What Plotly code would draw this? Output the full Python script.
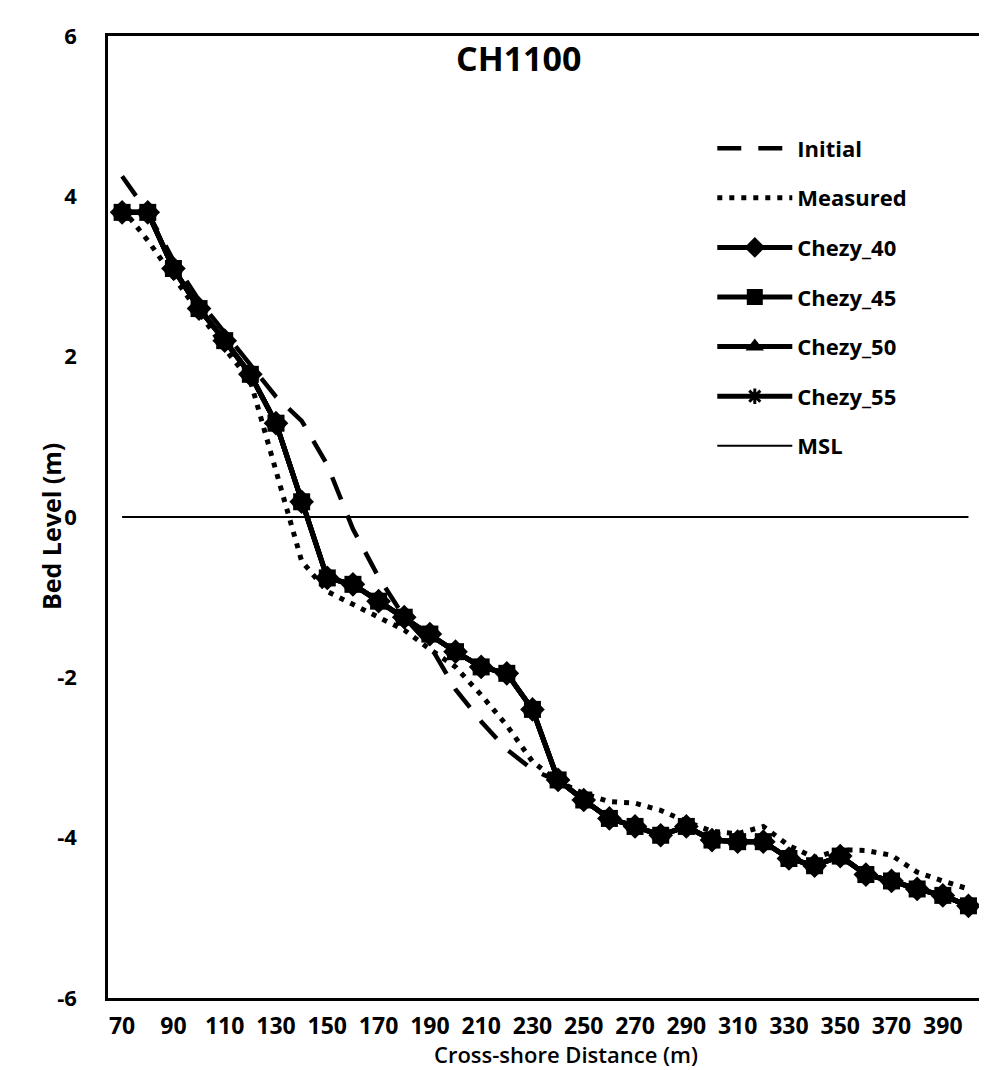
import plotly.graph_objects as go

# cross-shore positions (m)
distance = [70, 80, 90, 100, 110, 120, 130, 140, 150, 160, 170, 180, 190, 200, 210, 220, 230,
            240, 250, 260, 270, 280, 290, 300, 310, 320, 330, 340, 350, 360, 370, 380, 390, 400]

# bed levels (m)
initial = [4.25, 3.8, 3.2, 2.7, 2.3, 1.9, 1.5, 1.2, 0.65, -0.15, -0.75, -1.25, -1.6, -2.15, -2.55, -2.9, -3.15,
           -3.3, -3.53, -3.76, -3.86, -3.97, -3.86, -4.03, -4.05, -4.05, -4.26, -4.35, -4.23, -4.46, -4.54, -4.64, -4.72, -4.85]
measured = [3.85, 3.45, 3.0, 2.55, 2.1, 1.7, 0.6, -0.55, -0.93, -1.09, -1.25, -1.41, -1.65, -1.87, -2.22, -2.6, -3.05,
            -3.3, -3.45, -3.55, -3.57, -3.66, -3.8, -3.92, -3.95, -3.86, -4.1, -4.25, -4.15, -4.16, -4.22, -4.43, -4.54, -4.64]
# the four Chezy runs coincide on the plot
chezy = [3.8, 3.8, 3.1, 2.6, 2.2, 1.78, 1.17, 0.19, -0.76, -0.84, -1.05, -1.25, -1.46, -1.68, -1.87, -1.95, -2.4,
         -3.28, -3.53, -3.76, -3.86, -3.97, -3.86, -4.03, -4.05, -4.05, -4.26, -4.35, -4.23, -4.46, -4.54, -4.64, -4.72, -4.85]
msl = [0] * len(distance)

x_ticks = [70, 90, 110, 130, 150, 170, 190, 210, 230, 250, 270, 290, 310, 330, 350, 370, 390]
y_ticks = [6, 4, 2, 0, -2, -4, -6]
y_labels = ["6", "4", "2", "0", "-2", "-4", "-6"]

FONT = "Open Sans"
legend_font = dict(family=FONT, size=22, color="black", weight="bold")

fig = go.Figure()

fig.add_trace(go.Scatter(x=distance, y=initial, mode="lines", name="Initial", legendgroup="a",
                         line=dict(color="black", width=4.5, dash="24px,17px")))
fig.add_trace(go.Scatter(x=distance, y=measured, mode="lines", name="Measured", legendgroup="b",
                         line=dict(color="black", width=5, dash="5px,7px")))

runs = [("Chezy_40", "diamond", 19), ("Chezy_45", "square", 17),
        ("Chezy_50", "triangle-up", 16), ("Chezy_55", "asterisk", 13)]
for i, (name, sym, size) in enumerate(runs):
    fig.add_trace(go.Scatter(
        x=distance, y=chezy, mode="lines+markers", name=name, legendgroup="c%d" % i,
        line=dict(color="black", width=5),
        marker=dict(symbol=sym, size=size, color="black",
                    line=dict(color="black", width=3 if sym == "asterisk" else 0))
    ))

fig.add_trace(go.Scatter(x=distance, y=msl, mode="lines", name="MSL", legendgroup="z",
                         line=dict(color="black", width=2)))

fig.add_annotation(text="CH1100", x=0.471, y=0.977, xref="paper", yref="paper",
                   showarrow=False, xanchor="center", yanchor="middle",
                   font=dict(family=FONT, size=34, color="black", weight="bold"))
fig.add_annotation(text="Bed Level (m)", x=-0.066, y=0.49, xref="paper", yref="paper",
                   showarrow=False, textangle=-90, xanchor="center", yanchor="middle",
                   font=dict(family=FONT, size=25, color="black", weight="bold"))
fig.add_annotation(text="Cross-shore Distance (m)", x=0.525, y=-0.0586, xref="paper", yref="paper",
                   showarrow=False, xanchor="center", yanchor="middle",
                   font=dict(family=FONT, size=22, color="black", weight=600))

fig.update_xaxes(range=[64.5, 404.5], tickvals=x_ticks, showgrid=False, zeroline=False,
                 showline=True, linecolor="black", linewidth=2.5, mirror=True,
                 ticks="", ticklabelstandoff=6,
                 tickfont=dict(family=FONT, size=23, color="black", weight="bold"))
fig.update_yaxes(range=[-6, 6], tickvals=y_ticks, ticktext=y_labels, showgrid=False, zeroline=False,
                 showline=True, linecolor="black", linewidth=2.5, mirror=True,
                 ticks="", ticklabelstandoff=24,
                 tickfont=dict(family=FONT, size=22, color="black", weight="bold"))

fig.update_layout(
    width=987, height=1070,
    margin=dict(l=100, r=14, t=18, b=80),
    paper_bgcolor="white", plot_bgcolor="white",
    showlegend=True,
    legend=dict(x=0.693, y=0.905, xanchor="left", yanchor="top", bgcolor="rgba(0,0,0,0)",
                font=legend_font, itemwidth=75, tracegroupgap=18),
)

fig.write_html("out.html")
